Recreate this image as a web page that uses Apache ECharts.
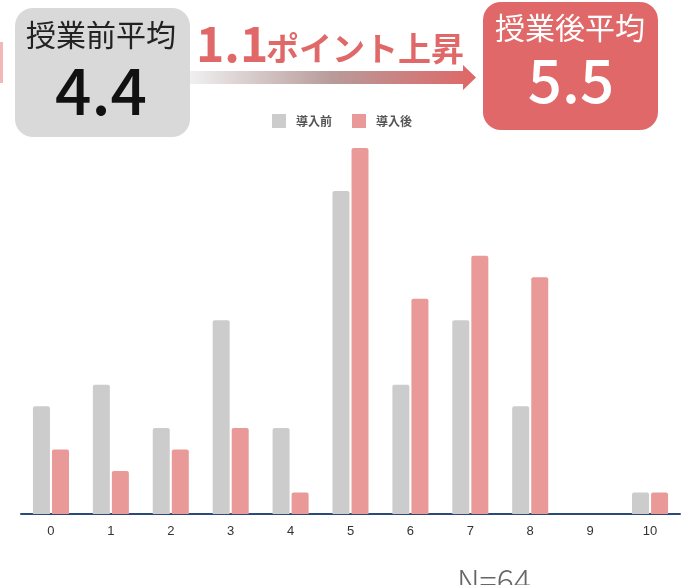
<!DOCTYPE html>
<html>
<head>
<meta charset="utf-8">
<script src="https://cdn.jsdelivr.net/npm/echarts@6/dist/echarts.min.js"></script>
<style>
html,body{margin:0;padding:0;background:#fff;}
#chart{width:684px;height:585px;}
</style>
</head>
<body>
<div id="chart"></div>
<script>
var categories = ['0','1','2','3','4','5','6','7','8','9','10'];
var seriesNames = ['導入前','導入後'];
var beforeValues = [5, 6, 4, 9, 4, 15, 6, 9, 5, 0, 1];
var afterValues  = [3, 2, 3, 4, 1, 17, 10, 12, 11, 0, 1];
var beforeTitle = '授業前平均';
var beforeMean = '4.4';
var afterTitle = '授業後平均';
var afterMean = '5.5';
var diffNumber = '1.1';
var diffText = 'ポイント上昇';
var nText = 'N=64';

var JP = '"Noto Sans CJK JP", "Noto Sans", sans-serif';
var RED = '#e06868';

var chart = echarts.init(document.getElementById('chart'));
chart.setOption({
  animation: false,
  backgroundColor: '#fff',
  legend: {
    data: seriesNames,
    left: 272,
    top: 114,
    padding: 0,
    icon: 'rect',
    itemWidth: 14,
    itemHeight: 14,
    itemGap: 20,
    textStyle: { fontFamily: JP, fontSize: 12, color: '#555', fontWeight: 'bold', padding: [0, 0, 0, 5] }
  },
  grid: { left: 21, right: 4, top: 148, bottom: 71 },
  xAxis: {
    type: 'category',
    data: categories,
    axisTick: { show: false },
    axisLine: { lineStyle: { color: '#2b4a7a', width: 2 } },
    axisLabel: { color: '#333', fontSize: 13, margin: 11, fontFamily: '"Liberation Sans Narrow", "Liberation Sans", sans-serif' }
  },
  yAxis: {
    type: 'value',
    min: 0,
    max: 17,
    show: false,
    splitLine: { show: false }
  },
  series: [
    {
      name: seriesNames[0], type: 'bar', data: beforeValues,
      barWidth: 17, barGap: '12%',
      itemStyle: { color: '#cccccc', borderRadius: [2, 2, 0, 0] }
    },
    {
      name: seriesNames[1], type: 'bar', data: afterValues,
      barWidth: 17, barGap: '12%',
      itemStyle: { color: '#ea9999', borderRadius: [2, 2, 0, 0] }
    }
  ],
  graphic: [
    { type: 'rect', shape: { x: -10, y: 42, width: 13, height: 41 }, style: { fill: '#f2b8b8' } },
    { type: 'rect', shape: { x: 15, y: 8, width: 175, height: 129, r: 18 }, style: { fill: '#d9d9d9' } },
    { type: 'text', style: { x: 101, y: 35, text: beforeTitle, font: '400 30px ' + JP, fill: '#222', align: 'center', verticalAlign: 'middle' } },
    { type: 'text', style: { x: 101, y: 91, text: beforeMean, font: '500 64px ' + JP, fill: '#111', align: 'center', verticalAlign: 'middle' } },
    { type: 'rect', shape: { x: 483, y: 2, width: 175, height: 128, r: 18 }, style: { fill: RED } },
    { type: 'text', style: { x: 570, y: 28, text: afterTitle, font: '400 30px ' + JP, fill: '#fff', align: 'center', verticalAlign: 'middle' } },
    { type: 'text', style: { x: 571, y: 80, text: afterMean, font: '500 60px ' + JP, fill: '#fff', align: 'center', verticalAlign: 'middle' } },
    {
      type: 'polygon',
      shape: { points: [[190, 71], [463, 71], [463, 65], [476, 77.5], [463, 90], [463, 84], [190, 84]] },
      style: {
        fill: new echarts.graphic.LinearGradient(0, 0, 1, 0, [
          { offset: 0, color: '#f0f0f0' },
          { offset: 0.5, color: '#b89a9a' },
          { offset: 1, color: '#e06666' }
        ])
      }
    },
    { type: 'text', style: { x: 196, y: 44, text: diffNumber, font: '700 48px ' + JP, fill: RED, align: 'left', verticalAlign: 'middle' } },
    { type: 'text', style: { x: 266, y: 48, text: diffText, font: '700 33px ' + JP, fill: RED, align: 'left', verticalAlign: 'middle' } },
    { type: 'text', style: { x: 457, y: 565, text: nText, font: '300 32px ' + JP, fill: '#666', align: 'left', verticalAlign: 'top' } }
  ]
});
</script>
</body>
</html>
